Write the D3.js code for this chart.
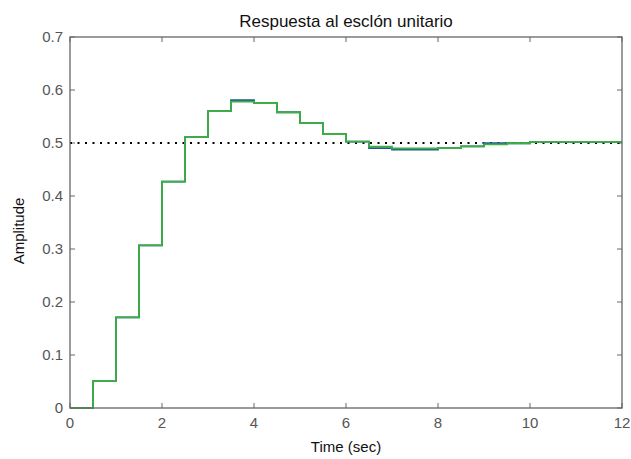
<!DOCTYPE html>
<html>
<head>
<meta charset="utf-8">
<script src="https://cdn.jsdelivr.net/npm/d3@7"></script>
<style>
  body { margin: 0; background: #fff; }
  svg { display: block; font-family: "Liberation Sans", Arial, sans-serif; }
</style>
</head>
<body>
<svg id="chart"></svg>
<script>
// step response samples, T = 0.5 s
var times = [0, 0.5, 1, 1.5, 2, 2.5, 3, 3.5, 4, 4.5, 5, 5.5, 6, 6.5, 7, 7.5, 8, 8.5, 9, 9.5, 10, 10.5, 11, 11.5, 12];
var blueVals = [0, 0.051, 0.171, 0.307, 0.427, 0.511, 0.560, 0.581, 0.5755, 0.558, 0.538, 0.517, 0.5025, 0.4905, 0.4875, 0.4875, 0.4905, 0.4935, 0.4995, 0.4995, 0.502, 0.502, 0.502, 0.502, 0.502];
var greenVals = [0, 0.051, 0.171, 0.307, 0.427, 0.511, 0.560, 0.578, 0.5755, 0.558, 0.538, 0.517, 0.5025, 0.493, 0.490, 0.490, 0.4905, 0.4935, 0.4975, 0.4995, 0.502, 0.502, 0.502, 0.502, 0.502];
var finalValue = 0.5;
var xTicks = [0, 2, 4, 6, 8, 10, 12];
var yTicks = [0, 0.1, 0.2, 0.3, 0.4, 0.5, 0.6, 0.7];

var W = 631, H = 459;
var margins = {top: 37, left: 70, bottom: 51, right: 9};
var width = W - margins.left - margins.right;
var height = H - margins.top - margins.bottom;

var svg = d3.select("#chart").attr("width", W).attr("height", H);
var g = svg.append("g").attr("transform", "translate(" + margins.left + "," + margins.top + ")");

var x = d3.scaleLinear().domain([0, 12]).range([0, width]);
var y = d3.scaleLinear().domain([0, 0.7]).range([height, 0]);

// ticks (inward, MATLAB style)
var axisCol = "#666";
var tk = 5;
g.selectAll(".xt").data(xTicks).enter().append("line")
  .attr("x1", function(d){ return x(d); }).attr("x2", function(d){ return x(d); })
  .attr("y1", height).attr("y2", height - tk).attr("stroke", axisCol);
g.selectAll(".xtt").data(xTicks).enter().append("line")
  .attr("x1", function(d){ return x(d); }).attr("x2", function(d){ return x(d); })
  .attr("y1", 0).attr("y2", tk).attr("stroke", axisCol);
g.selectAll(".yt").data(yTicks).enter().append("line")
  .attr("y1", function(d){ return y(d); }).attr("y2", function(d){ return y(d); })
  .attr("x1", 0).attr("x2", tk).attr("stroke", axisCol);
g.selectAll(".ytr").data(yTicks).enter().append("line")
  .attr("y1", function(d){ return y(d); }).attr("y2", function(d){ return y(d); })
  .attr("x1", width).attr("x2", width - tk).attr("stroke", axisCol);

// tick labels
g.selectAll(".xl").data(xTicks).enter().append("text")
  .attr("x", function(d){ return x(d); }).attr("y", height + 20)
  .attr("text-anchor", "middle").attr("font-size", 15).attr("fill", "#555")
  .text(function(d){ return d; });
g.selectAll(".yl").data(yTicks).enter().append("text")
  .attr("x", -7).attr("y", function(d){ return y(d) + 5; })
  .attr("text-anchor", "end").attr("font-size", 15).attr("fill", "#555")
  .text(function(d){ return d; });

// steady state reference
g.append("line")
  .attr("x1", 0).attr("x2", width)
  .attr("y1", y(finalValue)).attr("y2", y(finalValue))
  .attr("stroke", "#000").attr("stroke-width", 2).attr("stroke-dasharray", "2,5.5");

var line = d3.line()
  .x(function(d, i){ return x(times[i]); })
  .y(function(d){ return y(d); })
  .curve(d3.curveStepAfter);

g.append("path").attr("d", line(blueVals))
  .attr("fill", "none").attr("stroke", "#1f5a94").attr("stroke-width", 1.8);
g.append("path").attr("d", line(greenVals))
  .attr("fill", "none").attr("stroke", "#3cb040").attr("stroke-width", 1.8);

// box
g.append("rect").attr("x", 0).attr("y", 0).attr("width", width).attr("height", height)
  .attr("fill", "none").attr("stroke", axisCol).attr("stroke-width", 1.3);

// title and labels
svg.append("text").attr("x", margins.left + width / 2).attr("y", 27)
  .attr("text-anchor", "middle").attr("font-size", 17).attr("fill", "#111")
  .text("Respuesta al esclón unitario");
svg.append("text").attr("x", margins.left + width / 2).attr("y", 452)
  .attr("text-anchor", "middle").attr("font-size", 15).attr("fill", "#111")
  .text("Time (sec)");
svg.append("text").attr("transform", "translate(24," + 231 + ") rotate(-90)")
  .attr("text-anchor", "middle").attr("font-size", 15).attr("fill", "#111")
  .text("Amplitude");
</script>
</body>
</html>
